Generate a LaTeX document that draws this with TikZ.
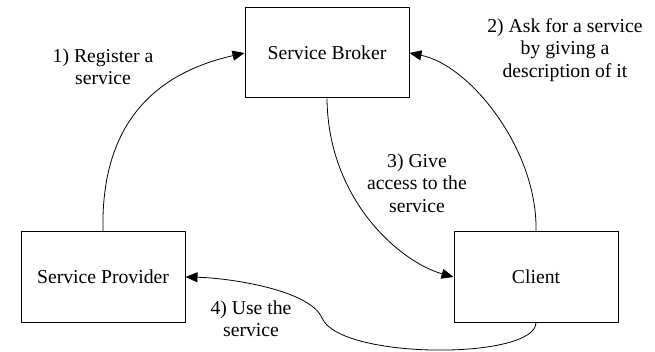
\documentclass[tikz,border=0pt]{standalone}
\usepackage{fontspec}
\setmainfont{Liberation Serif}
\usetikzlibrary{arrows.meta}
\tikzset{
  box/.style={draw, line width=1pt, minimum width=164pt, minimum height=90pt, inner sep=0pt, font=\fontsize{19.7}{22.5}\selectfont},
  lbl/.style={align=center, inner sep=0pt, font=\fontsize{19.7}{22.5}\selectfont},
  conn/.style={line width=0.8pt, -{Triangle[length=12pt,width=10pt]}}
}
\begin{document}
\begin{tikzpicture}[x=1pt,y=-1pt]
\useasboundingbox (0,0) rectangle (655,352);
\node[box] (broker) at (327,53) {Service Broker};
\node[box] (prov) at (103,277) {Service Provider};
\node[box] (client) at (536,277) {Client};
\node[lbl] (l1) at (103,67) {1) Register a\\service};
\node[lbl] (l2) at (565,50) {2) Ask for a service\\by giving a\\description of it};
\node[lbl] (l3) at (417,183) {3) Give\\access to the\\service};
\node[lbl] (l4) at (251,319) {4) Use the\\service};
\draw[conn] (prov.north) .. controls (100,110) and (170,70) .. (broker.west);
\draw[conn] (client.north) .. controls (538,150) and (470,65) .. (broker.east);
\draw[conn] (broker.south) .. controls (328,200) and (400,262) .. (client.west);
\coordinate (bend) at (322,318);
\draw[conn] (client.south) .. controls (536,360) and (340,360) .. (bend) .. controls (310,290) and (230,278) .. (prov.east);
\end{tikzpicture}
\end{document}
